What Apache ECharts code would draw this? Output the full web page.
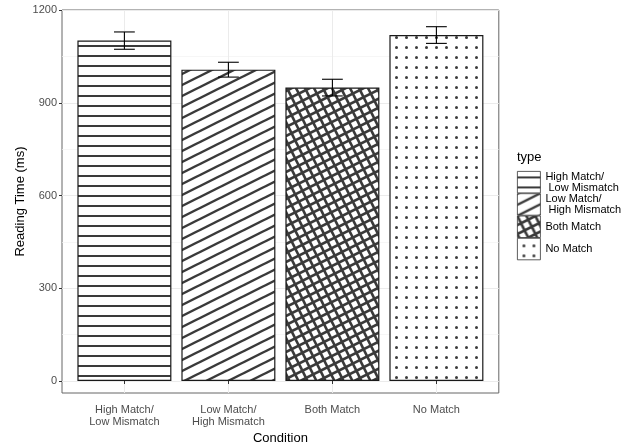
<!DOCTYPE html>
<html>
<head>
<meta charset="utf-8">
<script src="https://cdn.jsdelivr.net/npm/echarts@6/dist/echarts.min.js"></script>
<style>html,body{margin:0;padding:0;background:#fff}#c{width:634px;height:443px}</style>
</head>
<body>
<div id="c"></div>
<script>
// ---- data ----
const categories = ['High Match/\nLow Mismatch', 'Low Match/\nHigh Mismatch', 'Both Match', 'No Match'];
const legendLabels = ['High Match/\n Low Mismatch', 'Low Match/\n High Mismatch', 'Both Match', 'No Match'];
const readingTime = [1101, 1007, 949, 1119];
const stdErr = [28, 24, 27, 27];
const yTicks = [0, 300, 600, 900, 1200];
const xTicks = [1, 2, 3, 4];

// ---- patterns ----
const patColor = '#3a3a3a';
function mk(w, h) {
  const c = document.createElement('canvas'); c.width = w; c.height = h;
  const g = c.getContext('2d'); g.fillStyle = '#fff'; g.fillRect(0, 0, w, h);
  return [c, g];
}
function horizontal() {
  const [c, g] = mk(10, 10);
  g.fillStyle = patColor; g.fillRect(0, 5, 10, 2);
  return c;
}
function diagonal() {
  const [c, g] = mk(22, 11);
  g.strokeStyle = patColor; g.lineWidth = 2.4;
  [0, 11, 22].forEach(k => { g.beginPath(); g.moveTo(-4, k + 2); g.lineTo(26, k - 13); g.stroke(); });
  return c;
}
function crosshatch() {
  const [c, g] = mk(18, 18);
  g.strokeStyle = patColor; g.lineWidth = 2.6;
  [-9, 0, 9, 18, 27].forEach(k => { g.beginPath(); g.moveTo(-4, k + 2); g.lineTo(22, k - 11); g.stroke(); });
  [-36, -18, 0, 18].forEach(k => { g.beginPath(); g.moveTo(-4, k - 8); g.lineTo(22, k + 44); g.stroke(); });
  return c;
}
function dots() {
  const [c, g] = mk(10, 10);
  g.fillStyle = patColor; g.beginPath(); g.arc(6.5, 7.5, 1.5, 0, Math.PI * 2); g.fill();
  return c;
}
const patterns = [horizontal(), diagonal(), crosshatch(), dots()];

const chart = echarts.init(document.getElementById('c'), null, { renderer: 'canvas' });

const barSeries = readingTime.map((v, i) => ({
  name: legendLabels[i],
  type: 'bar',
  xAxisIndex: 0, yAxisIndex: 0,
  barWidth: 94,
  barGap: '-100%',
  data: [[xTicks[i], v]],
  itemStyle: {
    color: { image: patterns[i], repeat: 'repeat' },
    borderColor: '#1a1a1a',
    borderWidth: 1.2
  },
  emphasis: { disabled: true },
  z: 2
}));

const errData = readingTime.map((v, i) => [xTicks[i], v - stdErr[i], v + stdErr[i]]);

const option = {
  backgroundColor: '#fff',
  animation: false,
  title: {
    text: 'type', left: 517, top: 151, padding: 0,
    textStyle: { fontSize: 13, fontWeight: 'normal', color: '#000', fontFamily: 'Liberation Sans' }
  },
  legend: {
    orient: 'vertical', left: 517, top: 171, padding: 0,
    itemWidth: 23, itemHeight: 21.5, itemGap: 0, icon: 'rect',
    data: legendLabels,
    itemStyle: { borderWidth: 0.8, borderColor: '#333' },
    textStyle: { fontSize: 11, color: '#000', lineHeight: 10.75, fontFamily: 'Liberation Sans' },
    selectedMode: false
  },
  grid: {
    left: 62, top: 10, width: 436.8, height: 383,
    outerBoundsMode: 'none',
    show: true, borderColor: '#666', borderWidth: 1, backgroundColor: '#fff',
    containLabel: false
  },
  xAxis: {
    type: 'value', min: 0.4, max: 4.6, minInterval: 1, maxInterval: 1,
    axisLine: { show: false },
    axisTick: { show: true, customValues: xTicks, length: 3, lineStyle: { color: '#333' } },
    axisLabel: {
      customValues: xTicks, fontSize: 11, color: '#4d4d4d', lineHeight: 12, margin: 11,
      fontFamily: 'Liberation Sans',
      formatter: v => categories[Math.round(v) - 1]
    },
    splitLine: { show: true, lineStyle: { color: '#ebebeb', width: 1 } },
    name: 'Condition', nameLocation: 'middle', nameGap: 39, nameMoveOverlap: false,
    nameTextStyle: { fontSize: 13, color: '#000', fontFamily: 'Liberation Sans' }
  },
  yAxis: {
    type: 'value', min: -38.8, max: 1200, minInterval: 300, maxInterval: 300,
    axisLine: { show: false },
    axisTick: { show: true, customValues: yTicks, length: 3, lineStyle: { color: '#333' } },
    axisLabel: { customValues: yTicks, fontSize: 11, color: '#4d4d4d', margin: 5, fontFamily: 'Liberation Sans',
      formatter: v => String(v) },
    splitLine: { show: true, lineStyle: { color: '#ebebeb', width: 1 } },
    minorTick: { show: false, splitNumber: 2 },
    minorSplitLine: { show: true, lineStyle: { color: '#f2f2f2', width: 0.7 } },
    name: 'Reading Time (ms)', nameLocation: 'middle', nameGap: 35, nameMoveOverlap: false,
    nameTextStyle: { fontSize: 13, color: '#000', fontFamily: 'Liberation Sans' }
  },
  series: barSeries.concat([{
    type: 'custom',
    name: 'err',
    data: errData,
    z: 5,
    renderItem: function (params, api) {
      const x = api.value(0);
      const lo = api.coord([x, api.value(1)]);
      const hi = api.coord([x, api.value(2)]);
      const half = api.size([0.2, 0])[0] / 2;
      const st = { stroke: '#000', lineWidth: 1.1 };
      return {
        type: 'group', children: [
          { type: 'line', shape: { x1: lo[0], y1: lo[1], x2: hi[0], y2: hi[1] }, style: st },
          { type: 'line', shape: { x1: hi[0] - half, y1: hi[1], x2: hi[0] + half, y2: hi[1] }, style: st },
          { type: 'line', shape: { x1: lo[0] - half, y1: lo[1], x2: lo[0] + half, y2: lo[1] }, style: st }
        ]
      };
    }
  }])
};
chart.setOption(option);
</script>
</body>
</html>
